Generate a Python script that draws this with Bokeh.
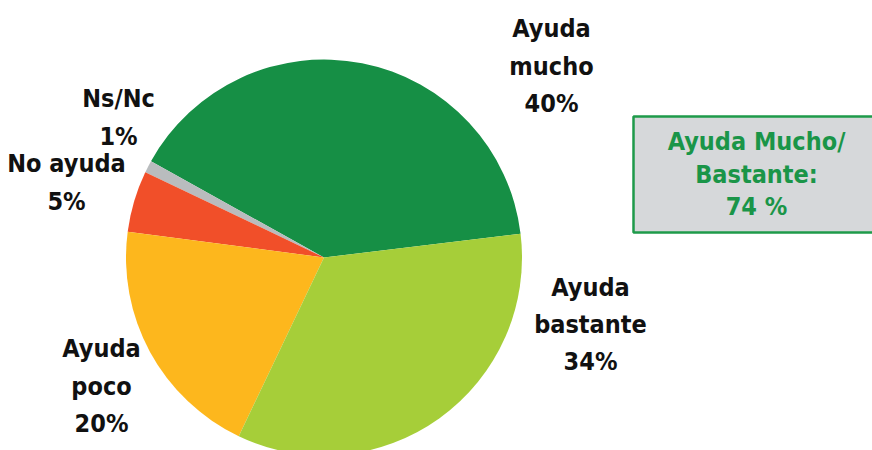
import numpy as np
from bokeh.plotting import figure
from bokeh.models import ColumnDataSource, Range1d
from bokeh.core.properties import value
from bokeh.embed import file_html
from bokeh.resources import INLINE

# ---- data ----
categories = ["Ayuda mucho", "Ns/Nc", "No ayuda", "Ayuda poco", "Ayuda bastante"]
percents = [40, 1, 5, 20, 34]
colors = ["#168F45", "#B9BCBE", "#F14F29", "#FDB71D", "#A6CE39"]
label_names = [["Ayuda", "mucho"], ["Ns/Nc"], ["No ayuda"], ["Ayuda", "poco"], ["Ayuda", "bastante"]]
summary_lines = ["Ayuda Mucho/", "Bastante:", "74 %"]

# ---- layout (screen pixel positions) ----
W, H = 872, 450
def X(sx):
    return sx
def Y(sy):
    return H - sy

cx, cy, R = X(323.5), Y(257), 198
start_deg = 6.9
TXT_DY = -9
# label anchors: (center x, first baseline, line spacing)
label_pos = [(551, 37, 37.5), (118, 107, 38), (66, 172, 38), (101, 357, 37.5), (590, 296, 37)]

fracs = np.array(percents, dtype=float) / sum(percents)
cum = np.concatenate([[0], np.cumsum(fracs)])
starts = np.deg2rad(start_deg) + 2 * np.pi * cum[:-1]
ends = np.deg2rad(start_deg) + 2 * np.pi * cum[1:]

src = ColumnDataSource(dict(start=starts, end=ends, color=colors, cat=categories))

p = figure(width=W, height=H, output_backend="svg", toolbar_location=None,
           x_range=Range1d(0, W), y_range=Range1d(0, H), min_border=0)
p.axis.visible = False
p.grid.visible = False
p.outline_line_color = None
p.background_fill_color = "white"

p.wedge(x=cx, y=cy, radius=R, start_angle="start", end_angle="end",
        fill_color="color", line_color=None, source=src)

# labels
lx, ly, lt = [], [], []
for names, pct, (ax, by, sp) in zip(label_names, percents, label_pos):
    lines = names + [f"{pct}%"]
    for i, t in enumerate(lines):
        lx.append(X(ax))
        ly.append(Y(by + TXT_DY + i * sp))
        lt.append(t)
p.text(x=lx, y=ly, text=lt, text_font=value("DejaVu Sans Condensed"),
       text_font_style="bold", text_font_size="25px", text_color="#111111",
       text_align="center", text_baseline="alphabetic")

# summary box
p.quad(left=X(633), right=X(900), top=Y(116), bottom=Y(232),
       fill_color="#D6D8DA", line_color="#1E9A4A", line_width=2.5)
sx_ = [X(756)] * len(summary_lines)
sy_ = [Y(150 + TXT_DY + i * 32.5) for i in range(len(summary_lines))]
p.text(x=sx_, y=sy_, text=summary_lines, text_font=value("DejaVu Sans Condensed"),
       text_font_style="bold", text_font_size="25px", text_color="#1A9548",
       text_align="center", text_baseline="alphabetic")

open("out.html", "w").write(file_html(p, INLINE))
